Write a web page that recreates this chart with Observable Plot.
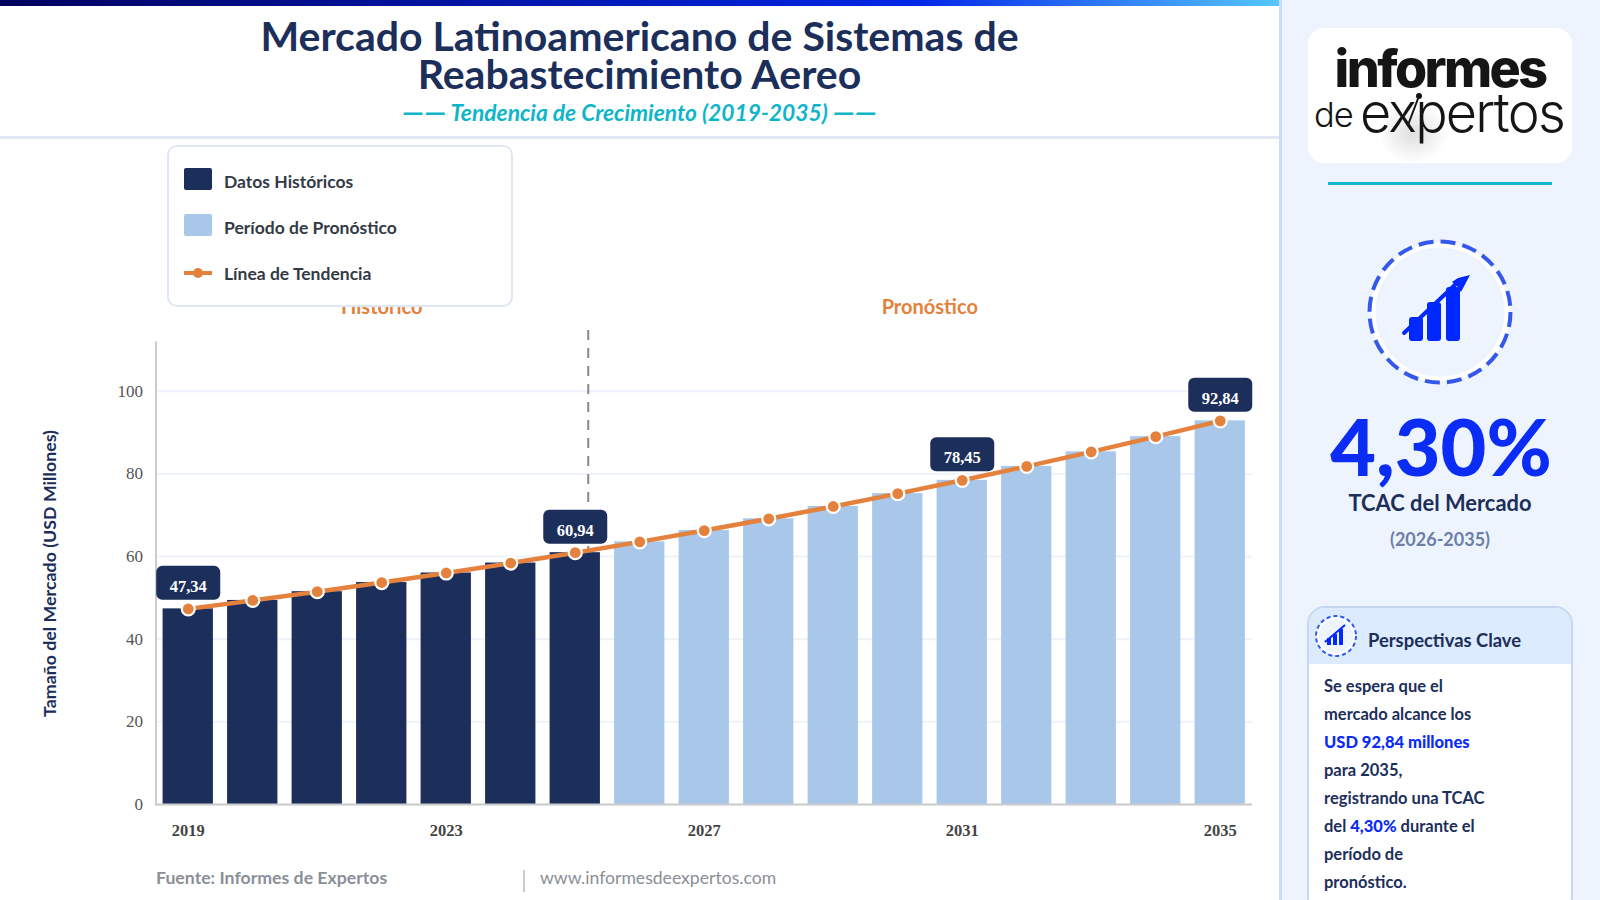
<!DOCTYPE html>
<html lang="es">
<head>
<meta charset="utf-8">
<title>Mercado Latinoamericano de Sistemas de Reabastecimiento Aereo</title>
<script src="https://cdn.jsdelivr.net/npm/d3@7"></script>
<script src="https://cdn.jsdelivr.net/npm/@observablehq/plot@0.6"></script>
<style>
  html,body{margin:0;padding:0;width:1600px;height:900px;overflow:hidden;background:#fff;font-family:Lato,"Open Sans",sans-serif;}
  .abs{position:absolute;}
  #topbar{left:0;top:0;width:1279px;height:6px;background:linear-gradient(90deg,#02025e 0%,#0327e8 72%,#55c8ff 100%);}
  #hdrline{left:0;top:136px;width:1279px;height:3px;background:#e2e9f5;}
  #title{left:0;top:17px;width:1279px;text-align:center;font-weight:700;font-size:41px;line-height:38px;color:#1c2e5a;}
  #subtitle{left:0;top:98px;width:1279px;text-align:center;font-weight:700;font-style:italic;font-size:22.8px;line-height:28px;color:#0fb5c9;}
  #subtitle span{font-size:30px;position:relative;top:2px;line-height:0;}
  #chart{left:0;top:140px;}
  #legend{left:167px;top:145px;width:342px;height:158px;background:#fff;border:2px solid #dfe6f4;border-radius:10px;z-index:5;}
  .sw{position:absolute;left:15px;width:28px;height:22px;border-radius:2px;}
  .lt{position:absolute;left:55px;font-size:17.5px;font-weight:700;color:#333a45;line-height:22px;}
  #footL{left:156px;top:866px;font-size:17.7px;font-weight:700;color:#8a8f98;line-height:24px;}
  #footS{left:523px;top:870px;width:2px;height:22px;background:#ccc;}
  #footR{left:540px;top:866px;font-size:17.6px;color:#8a8f98;line-height:24px;}
  #side{left:1279px;top:0;width:321px;height:900px;background:#eef4fe;border-left:3px solid #c9dcf5;box-sizing:border-box;}
  #logo{left:1308px;top:28px;width:264px;height:135px;background:#fff;border-radius:16px;overflow:hidden;}
  #rule2{left:1328px;top:182px;width:224px;height:3px;background:#12b8cf;}
  #big{left:1280px;top:406px;width:322px;text-align:center;font-size:79px;line-height:80px;font-weight:900;color:#0a2cf5;}
  #tcac{left:1279px;top:491px;width:322px;text-align:center;font-size:21.9px;line-height:24px;font-weight:700;color:#1c2e5a;}
  #per{left:1279px;top:526px;width:322px;text-align:center;font-size:18px;line-height:26px;font-weight:700;color:#6c7fa8;}
  #card{left:1307px;top:606px;width:266px;height:310px;box-sizing:border-box;background:#fff;border:2px solid #c6d8f0;border-radius:18px;overflow:hidden;}
  #cardh{position:absolute;left:0;top:0;right:0;height:56px;background:#dcebfd;}
  #cardt{position:absolute;left:59px;top:19px;font-size:18.4px;line-height:26px;font-weight:700;color:#1c2e5a;}
  #cardb{position:absolute;left:15px;top:64px;font-size:16.5px;line-height:28px;font-weight:700;color:#1c2e5a;white-space:nowrap;}
  #cardb b{color:#0a2cf5;}
</style>
</head>
<body>
<div id="topbar" class="abs"></div>
<div id="title" class="abs">Mercado Latinoamericano de Sistemas de<br>Reabastecimiento Aereo</div>
<div id="subtitle" class="abs"><span>——</span> Tendencia de Crecimiento (2019-2035) <span>——</span></div>
<div id="hdrline" class="abs"></div>
<div id="chart" class="abs"></div>

<div id="legend" class="abs">
  <div class="sw" style="top:21px;background:#1c2e5a"></div><div class="lt" style="top:24px">Datos Históricos</div>
  <div class="sw" style="top:67px;background:#a9c8e9"></div><div class="lt" style="top:70px">Período de Pronóstico</div>
  <svg style="position:absolute;left:15px;top:115px" width="28" height="22"><line x1="0" x2="28" y1="11" y2="11" stroke="#e4813c" stroke-width="4"/><circle cx="14" cy="11" r="5" fill="#e4813c"/></svg>
  <div class="lt" style="top:116px">Línea de Tendencia</div>
</div>

<div id="footL" class="abs">Fuente: Informes de Expertos</div>
<div id="footS" class="abs"></div>
<div id="footR" class="abs">www.informesdeexpertos.com</div>

<div id="side" class="abs"></div>
<div id="logo" class="abs">
  <div style="position:absolute;left:70px;top:75px;width:70px;height:60px;background:radial-gradient(closest-side,rgba(0,0,0,.13),rgba(0,0,0,0));"></div>
  <div style="position:absolute;left:0;top:15px;width:264px;text-align:center;font-family:Inter;font-weight:800;font-size:52px;line-height:52px;letter-spacing:-2.6px;color:#151515;">informes</div>
  <div style="position:absolute;left:6px;top:69px;font-family:Inter;font-weight:300;font-size:34.5px;line-height:36px;letter-spacing:-1px;color:#151515;">de</div>
  <div style="position:absolute;left:52px;top:58px;font-family:Inter;font-weight:300;font-size:54px;line-height:54px;letter-spacing:-1.8px;color:#151515;">expertos</div>
  <svg style="position:absolute;left:0;top:0" width="264" height="135"><line x1="100" y1="97" x2="111" y2="68" stroke="#151515" stroke-width="2"/><circle cx="111" cy="68" r="3" fill="#151515"/></svg>
</div>
<div id="rule2" class="abs"></div>

<svg class="abs" style="left:1360px;top:232px" width="160" height="160">
  <circle cx="80" cy="80" r="67" fill="#eef4fe" stroke="#fff" stroke-width="5"/>
  <circle cx="80" cy="80" r="70.5" fill="none" stroke="#3558ec" stroke-width="4" stroke-dasharray="15 7.15"/>
  <g fill="#0028ff">
    <rect x="49" y="85" width="14" height="24" rx="3"/>
    <rect x="67" y="70" width="14" height="39" rx="3"/>
    <rect x="86" y="55" width="14" height="54" rx="3"/>
    <path d="M110 43 L98 46 L92 50 L97 54 L101 60 Z"/>
  </g>
  <line x1="44" y1="101" x2="98" y2="50" stroke="#0028ff" stroke-width="4" stroke-linecap="round"/>
</svg>

<div id="big" class="abs">4,30%</div>
<div id="tcac" class="abs">TCAC del Mercado</div>
<div id="per" class="abs">(2026-2035)</div>

<div id="card" class="abs">
  <div id="cardh"></div>
  <svg style="position:absolute;left:5px;top:6px" width="44" height="44">
    <circle cx="22" cy="22" r="18" fill="#eef4fe" stroke="#fff" stroke-width="2"/>
    <circle cx="22" cy="22" r="20" fill="none" stroke="#3558ec" stroke-width="2" stroke-dasharray="4 3"/>
    <g fill="#0028ff"><rect x="13" y="24" width="4" height="7"/><rect x="19" y="20" width="4" height="11"/><rect x="25" y="15" width="4" height="16"/></g>
    <line x1="11" y1="28" x2="31" y2="11" stroke="#0028ff" stroke-width="2"/>
  </svg>
  <div id="cardt">Perspectivas Clave</div>
  <div id="cardb">Se espera que el<br>mercado alcance los<br><b>USD 92,84 millones</b><br>para 2035,<br>registrando una TCAC<br>del <b>4,30%</b> durante el<br>período de<br>pronóstico.</div>
</div>

<script>
const years = [2019,2020,2021,2022,2023,2024,2025,2026,2027,2028,2029,2030,2031,2032,2033,2034,2035];
const marketValues = [47.34,49.38,51.5,53.71,56.02,58.43,60.94,63.56,66.29,69.14,72.12,75.22,78.45,81.82,85.34,89.01,92.84];
const periods = ["Histórico","Histórico","Histórico","Histórico","Histórico","Histórico","Histórico","Pronóstico","Pronóstico","Pronóstico","Pronóstico","Pronóstico","Pronóstico","Pronóstico","Pronóstico","Pronóstico","Pronóstico"];
const labelledYears = [2019,2025,2031,2035];
const xTickYears = [2019,2023,2027,2031,2035];
const yTicks = [0,20,40,60,80,100];
const periodNames = ["Histórico","Pronóstico"];
const periodColors = ["#1c2e5a","#a9c8e9"];
const yAxisTitle = "Tamaño del Mercado (USD Millones)";

const rows = years.map((year,i)=>({year,value:marketValues[i],period:periods[i]}));
const badges = rows.filter(d=>labelledYears.includes(d.year));
const comma = v => v.toFixed(2).replace(".",",");

const badgeSymbol = {draw(ctx){
  const w=32,h=17,r=6;
  ctx.moveTo(-w+r,-h);ctx.lineTo(w-r,-h);ctx.arcTo(w,-h,w,-h+r,r);
  ctx.lineTo(w,h-r);ctx.arcTo(w,h,w-r,h,r);
  ctx.lineTo(-w+r,h);ctx.arcTo(-w,h,-w,h-r,r);
  ctx.lineTo(-w,-h+r);ctx.arcTo(-w,-h,-w+r,-h,r);ctx.closePath();
}};

const plot = Plot.plot({
  width:1278, height:710,
  marginLeft:155.5, marginRight:26, marginTop:202, marginBottom:46,
  style:{background:"transparent",overflow:"visible"},
  x:{type:"band",domain:years,paddingInner:0.22,paddingOuter:0.11,round:false,label:null},
  y:{domain:[0,111.8],label:null},
  color:{domain:periodNames,range:periodColors},
  marks:[
    Plot.gridY(yTicks,{stroke:"#eef2fa",strokeOpacity:1,strokeWidth:2}),
    Plot.ruleX([2025],{dx:13,y1:114.7,y2:0,stroke:"#888",strokeWidth:2,strokeDasharray:"10 8"}),
    Plot.barY(rows,{x:"year",y:"value",fill:"period"}),
    Plot.ruleY([0],{stroke:"#ccc",strokeWidth:2}),
    Plot.frame({anchor:"left",stroke:"#ccc",strokeWidth:2}),
    Plot.axisY({ticks:yTicks,tickSize:0,tickPadding:13,fontSize:17,fontFamily:"Liberation Serif",fill:"#555",label:null}),
    Plot.axisX({ticks:xTickYears,tickSize:0,tickPadding:20,fontSize:16.5,fontWeight:700,fontFamily:"Liberation Serif",fill:"#444",tickFormat:d=>String(d),label:null}),
    Plot.text([yAxisTitle],{frameAnchor:"left",textAnchor:"middle",dx:-106,text:d=>d,rotate:-90,fontSize:17.8,fontWeight:700,fontFamily:"Lato",fill:"#1c2e5a"}),
    Plot.lineY(rows,{x:"year",y:"value",stroke:"#e4813c",strokeWidth:4.5}),
    Plot.dot(rows,{x:"year",y:"value",r:6.5,fill:"#e4813c",stroke:"#fff",strokeWidth:2.2}),
    Plot.dot(badges,{x:"year",y:"value",symbol:badgeSymbol,r:10,fill:"#1c2e5a",dy:-26}),
    Plot.text(badges,{x:"year",y:"value",text:d=>comma(d.value),dy:-22.3,fill:"#fff",fontSize:16.5,fontWeight:700,fontFamily:"Liberation Serif"}),
    Plot.text([periodNames[0]],{x:()=>2022,y:()=>120.3,text:d=>d,fontSize:20,fontWeight:700,fontFamily:"Lato",fill:"#e4813c"}),
    Plot.text([periodNames[1]],{x:()=>2030,y:()=>120.3,dx:32,text:d=>d,fontSize:20,fontWeight:700,fontFamily:"Lato",fill:"#e4813c"})
  ]
});
document.getElementById("chart").append(plot);
</script>
</body>
</html>
